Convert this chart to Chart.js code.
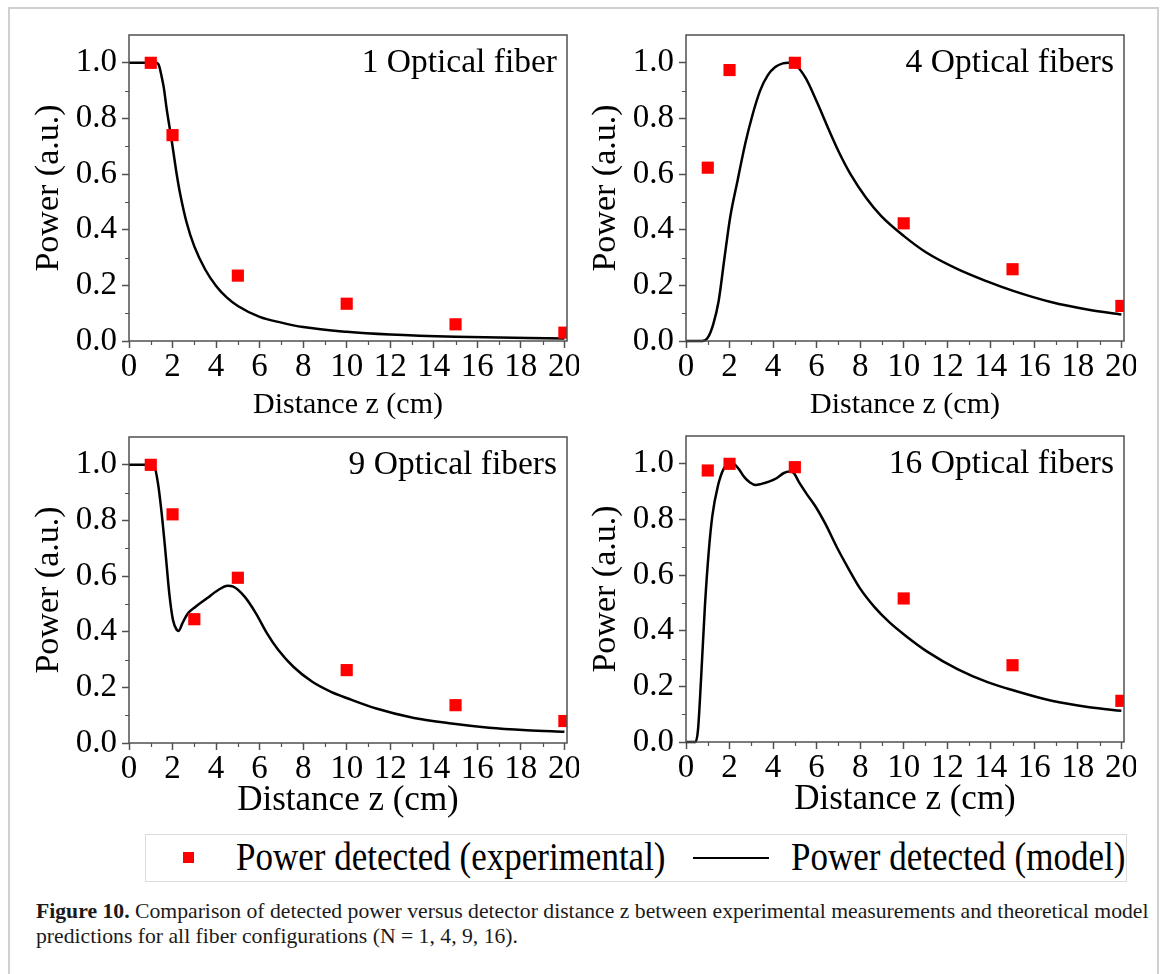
<!DOCTYPE html>
<html>
<head>
<meta charset="utf-8">
<script src="https://cdn.jsdelivr.net/npm/chart.js@4.4.1/dist/chart.umd.min.js"></script>
<style>
  body { margin: 0; background: #fff; width: 1171px; height: 974px; overflow: hidden; position: relative; font-family: 'Liberation Serif', 'Times New Roman', serif; }
  #sheet { position: absolute; left: 8px; top: 7px; width: 1151px; height: 1000px; border: 2px solid #d0d0d0; box-sizing: border-box; }
  .panel { position: absolute; width: 560px; height: 405px; }
  #legend { position: absolute; left: 145px; top: 834px; width: 982px; height: 48px; border: 1px solid #dcdcdc; box-sizing: border-box; }
  #legend .sq { position: absolute; left: 37px; top: 17px; width: 11px; height: 11px; background: #ff0000; }
  #legend .ln { position: absolute; left: 547px; top: 22px; width: 76px; height: 2px; background: #000; }
  #legend .txt { position: absolute; top: 0; line-height: 46px; font-size: 35px; color: #000; white-space: nowrap; transform: scaleY(1.12); }
  #caption { position: absolute; left: 36px; top: 899px; font-size: 21.7px; line-height: 25px; color: #1a1a1a; white-space: nowrap; }
</style>
</head>
<body>
<div id="sheet"></div>
<canvas id="c1" class="panel" style="left:19px; top:21px;"></canvas>
<canvas id="c4" class="panel" style="left:576px; top:21px;"></canvas>
<canvas id="c9" class="panel" style="left:19px; top:423px;"></canvas>
<canvas id="c16" class="panel" style="left:576px; top:422px;"></canvas>
<div id="legend">
  <span class="sq"></span>
  <span class="txt" style="left:90px;">Power detected (experimental)</span>
  <span class="ln"></span>
  <span class="txt" style="left:645px;">Power detected (model)</span>
</div>
<div id="caption"><b>Figure 10.</b> Comparison of detected power versus detector distance z between experimental measurements and theoretical model<br>predictions for all fiber configurations (N = 1, 4, 9, 16).</div>

<script>
// measured points (z in cm, normalised power)
const expZ1 = [1, 2, 5, 10, 15, 20];
const expP1 = [1.0, 0.74, 0.235, 0.134, 0.06, 0.03];
const expZ4 = [1, 2, 5, 10, 15, 20];
const expP4 = [0.623, 0.974, 1.0, 0.423, 0.258, 0.126];
const expZ9 = [1, 2, 3, 5, 10, 15, 20];
const expP9 = [1.0, 0.822, 0.445, 0.594, 0.262, 0.136, 0.079];
const expZ16 = [1, 2, 5, 10, 15, 20];
const expP16 = [0.976, 1.0, 0.988, 0.516, 0.276, 0.148];

// model curves
const modelZ1 = [0, 0.5, 1.0, 1.25, 1.38, 1.5, 1.6, 1.72, 1.88, 2.0, 2.18, 2.34, 2.65, 3.0, 3.5, 4.0, 4.5, 5.0, 6.0, 7.0, 8.0, 10, 12, 15, 20];
const modelP1 = [1, 1, 1, 1, 0.99, 0.95, 0.91, 0.84, 0.76, 0.70, 0.605, 0.533, 0.425, 0.34, 0.257, 0.198, 0.156, 0.126, 0.087, 0.066, 0.05, 0.033, 0.023, 0.015, 0.009];
const modelZ4 = [0, 0.75, 1.0, 1.25, 1.5, 1.77, 2.03, 2.37, 2.72, 3.07, 3.41, 3.76, 4.1, 4.45, 4.72, 5.06, 5.5, 6.01, 6.53, 7.05, 7.57, 8.27, 8.96, 10, 11.04, 12.43, 13.8, 15.03, 16.76, 18.5, 20];
const modelP4 = [0, 0, 0.012, 0.06, 0.144, 0.30, 0.445, 0.577, 0.709, 0.817, 0.901, 0.956, 0.985, 0.998, 1.0, 0.99, 0.945, 0.86, 0.765, 0.675, 0.598, 0.515, 0.45, 0.378, 0.318, 0.26, 0.215, 0.18, 0.14, 0.112, 0.095];
const modelZ9 = [0, 1.0, 1.16, 1.33, 1.5, 1.68, 1.85, 2.02, 2.2, 2.28, 2.45, 2.71, 3.06, 3.58, 4.1, 4.53, 4.79, 5.31, 5.83, 6.34, 6.86, 7.55, 8.42, 9.28, 10.06, 11.36, 13.09, 14.81, 16.54, 18.27, 20];
const modelP9 = [1, 1, 0.995, 0.934, 0.826, 0.682, 0.538, 0.442, 0.406, 0.403, 0.43, 0.466, 0.49, 0.52, 0.55, 0.565, 0.562, 0.526, 0.466, 0.394, 0.334, 0.274, 0.22, 0.184, 0.16, 0.124, 0.09, 0.07, 0.055, 0.046, 0.04];
const modelZ16 = [0, 0.43, 0.55, 0.69, 0.87, 1.04, 1.21, 1.47, 1.73, 1.99, 2.16, 2.42, 2.68, 2.94, 3.2, 3.46, 3.81, 4.16, 4.5, 4.76, 4.94, 5.19, 5.54, 5.97, 6.41, 6.93, 7.45, 7.97, 8.66, 9.35, 10.04, 11.08, 12.47, 13.85, 15.06, 16.8, 18.53, 20];
const modelP16 = [0, 0, 0.043, 0.224, 0.49, 0.68, 0.813, 0.922, 0.982, 1.0, 1.0, 0.982, 0.952, 0.933, 0.924, 0.928, 0.936, 0.948, 0.967, 0.972, 0.968, 0.934, 0.892, 0.844, 0.783, 0.7, 0.625, 0.555, 0.485, 0.43, 0.385, 0.325, 0.262, 0.215, 0.185, 0.148, 0.125, 0.112];

const panelTitles = ['1 Optical fiber', '4 Optical fibers', '9 Optical fibers', '16 Optical fibers'];
const xTitle = 'Distance z (cm)';
const yTitle = 'Power (a.u.)';
const xMinorTicks = [1, 3, 5, 7, 9, 11, 13, 15, 17, 19];
const yMinorTicks = [0.1, 0.3, 0.5, 0.7, 0.9];

const SERIF = "'Liberation Serif', 'Times New Roman', serif";
const AXIS_COLOR = '#505050';

const pairs = (xs, ys) => xs.map((x, i) => ({ x: x, y: ys[i] }));

// box around the plot, short minor ticks and the label in the corner
const framePlugin = {
  id: 'frame',
  afterDraw(chart, args, opts) {
    const { ctx, chartArea: a, scales } = chart;
    ctx.save();
    ctx.strokeStyle = AXIS_COLOR;
    ctx.lineWidth = 1.5;
    ctx.strokeRect(a.left, a.top, a.right - a.left, a.bottom - a.top);
    ctx.beginPath();
    xMinorTicks.forEach(v => {
      const px = Math.round(scales.x.getPixelForValue(v)) + 0.5;
      ctx.moveTo(px, a.bottom);
      ctx.lineTo(px, a.bottom + 4);
    });
    yMinorTicks.forEach(v => {
      const py = Math.round(scales.y.getPixelForValue(v)) + 0.5;
      ctx.moveTo(a.left, py);
      ctx.lineTo(a.left - 4, py);
    });
    ctx.lineWidth = 1.2;
    ctx.stroke();
    ctx.fillStyle = '#000';
    ctx.font = '33.5px ' + SERIF;
    ctx.textAlign = 'right';
    ctx.textBaseline = 'alphabetic';
    ctx.fillText(opts.label, a.right - 10, a.top + 37);
    ctx.restore();
  }
};

function makePanel(id, label, expZ, expP, modelZ, modelP, xTitleSize, xTitlePad) {
  new Chart(document.getElementById(id), {
    type: 'scatter',
    data: {
      datasets: [
        {
          label: 'Power detected (experimental)',
          data: pairs(expZ, expP),
          pointStyle: 'rect',
          pointRadius: 8.6,
          pointHoverRadius: 8.6,
          backgroundColor: '#ff0000',
          borderWidth: 0,
          clip: 0
        },
        {
          label: 'Power detected (model)',
          data: pairs(modelZ, modelP),
          showLine: true,
          cubicInterpolationMode: 'monotone',
          borderColor: '#000',
          borderWidth: 2.5,
          pointRadius: 0,
          pointHoverRadius: 0,
          clip: 2
        }
      ]
    },
    options: {
      responsive: false,
      animation: false,
      events: [],
      layout: { padding: { top: 14, right: 12, left: 0, bottom: 0 } },
      plugins: {
        legend: { display: false },
        tooltip: { enabled: false },
        frame: { label: label }
      },
      scales: {
        x: {
          type: 'linear',
          min: 0,
          max: 20.12,
          afterFit: s => { s.height = 85; s.paddingLeft = 0; s.paddingRight = 0; },
          border: { display: false },
          grid: { display: true, drawOnChartArea: false, drawTicks: true, tickLength: 7, tickColor: AXIS_COLOR, tickWidth: 1.5 },
          ticks: {
            stepSize: 2,
            includeBounds: false,
            padding: 0,
            color: '#000',
            font: { family: SERIF, size: 33 },
            maxRotation: 0,
            autoSkip: false,
            callback: v => String(v)
          },
          title: { display: true, text: xTitle, color: '#000', font: { family: SERIF, size: xTitleSize }, padding: { top: 0, bottom: xTitlePad } }
        },
        y: {
          min: 0,
          max: 1.1,
          afterFit: s => { s.width = 110; s.paddingTop = 0; s.paddingBottom = 0; },
          border: { display: false },
          grid: { display: true, drawOnChartArea: false, drawTicks: true, tickLength: 7, tickColor: AXIS_COLOR, tickWidth: 1.5 },
          ticks: {
            stepSize: 0.2,
            includeBounds: false,
            padding: 5,
            color: '#000',
            font: { family: SERIF, size: 33 },
            callback: v => v.toFixed(1)
          },
          title: { display: true, text: yTitle, color: '#000', font: { family: SERIF, size: 34 }, padding: { top: 10, bottom: 0 } }
        }
      }
    },
    plugins: [framePlugin]
  });
}

document.querySelectorAll('canvas.panel').forEach(c => { c.width = 560; c.height = 405; });

makePanel('c1', panelTitles[0], expZ1, expP1, modelZ1, modelP1, 30, 3);
makePanel('c4', panelTitles[1], expZ4, expP4, modelZ4, modelP4, 30, 3);
makePanel('c9', panelTitles[2], expZ9, expP9, modelZ9, modelP9, 35, 6);
makePanel('c16', panelTitles[3], expZ16, expP16, modelZ16, modelP16, 35, 6);
</script>
</body>
</html>
